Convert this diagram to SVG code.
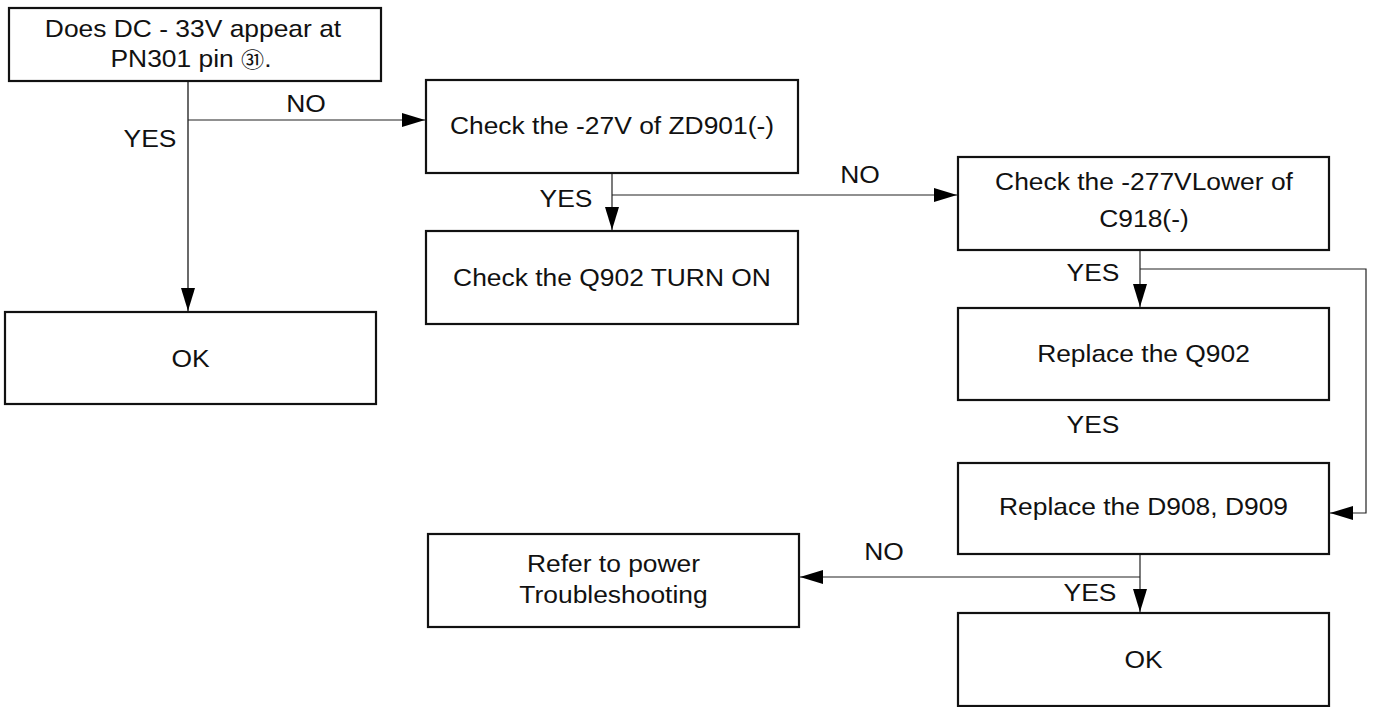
<svg xmlns="http://www.w3.org/2000/svg" width="1375" height="707" viewBox="0 0 1375 707">
<style>
.box{fill:#fff;stroke:#111;stroke-width:2.2}
.t{font-family:"Liberation Sans",Arial,Helvetica,sans-serif;font-size:24px;fill:#111;text-anchor:middle}
.c{fill:none;stroke:#222;stroke-width:1.2}
.c0{fill:none;stroke:#444;stroke-width:1.6}
</style>
<defs>
<marker id="ah" markerUnits="userSpaceOnUse" markerWidth="24" markerHeight="14" refX="23" refY="7" orient="auto">
<path d="M0,0 L23,7 L0,14 z" fill="#000"/>
</marker>
</defs>
<rect width="1375" height="707" fill="#fff"/>
<g id="connectors">
<line class="c0" x1="188" y1="81" x2="188" y2="311" marker-end="url(#ah)"/>
<line class="c" x1="188" y1="120" x2="425" y2="120" marker-end="url(#ah)"/>
<line class="c" x1="612" y1="173" x2="612" y2="230" marker-end="url(#ah)"/>
<line class="c" x1="612" y1="195" x2="957" y2="195" marker-end="url(#ah)"/>
<line class="c" x1="1140" y1="250" x2="1140" y2="307" marker-end="url(#ah)"/>
<polyline class="c" points="1140,269 1366,269 1366,513 1330,513" marker-end="url(#ah)"/>
<line class="c" x1="1140" y1="554" x2="1140" y2="612" marker-end="url(#ah)"/>
<line class="c" x1="1140" y1="577" x2="800" y2="577" marker-end="url(#ah)"/>
<g id="labels">
<text class="t" transform="translate(306,112) scale(1.1,1)">NO</text>
<text class="t" transform="translate(150,147) scale(1.1,1)">YES</text>
<text class="t" transform="translate(566,207) scale(1.1,1)">YES</text>
<text class="t" transform="translate(860,183) scale(1.1,1)">NO</text>
<text class="t" transform="translate(1093,281) scale(1.1,1)">YES</text>
<text class="t" transform="translate(1093,433) scale(1.1,1)">YES</text>
<text class="t" transform="translate(884,560) scale(1.1,1)">NO</text>
<text class="t" transform="translate(1090,601) scale(1.1,1)">YES</text>
</g>
</g>
<g id="n1">
<rect class="box" x="9" y="8" width="372" height="73"/>
<text class="t" transform="translate(193,37) scale(1.1,1)">Does DC - 33V appear at</text>
<text class="t" transform="translate(191,67) scale(1.1,1)">PN301 pin <tspan style="font-family:'Noto Sans CJK JP','DejaVu Sans',sans-serif;font-size:21px">㉛</tspan>.</text>
</g>
<g id="n2">
<rect class="box" x="426" y="80" width="372" height="93"/>
<text class="t" transform="translate(612,134) scale(1.1,1)">Check the -27V of ZD901(-)</text>
</g>
<g id="n3">
<rect class="box" x="426" y="231" width="372" height="93"/>
<text class="t" transform="translate(612,286) scale(1.1,1)">Check the Q902 TURN ON</text>
</g>
<g id="n4">
<rect class="box" x="958" y="157" width="371" height="93"/>
<text class="t" transform="translate(1144,190) scale(1.1,1)">Check the -277VLower of</text>
<text class="t" transform="translate(1144,227) scale(1.1,1)">C918(-)</text>
</g>
<g id="n5">
<rect class="box" x="5" y="312" width="371" height="92"/>
<text class="t" transform="translate(190.5,367) scale(1.1,1)">OK</text>
</g>
<g id="n6">
<rect class="box" x="958" y="308" width="371" height="92"/>
<text class="t" transform="translate(1143.5,362) scale(1.1,1)">Replace the Q902</text>
</g>
<g id="n7">
<rect class="box" x="958" y="463" width="371" height="91"/>
<text class="t" transform="translate(1143.5,515) scale(1.1,1)">Replace the D908, D909</text>
</g>
<g id="n8">
<rect class="box" x="428" y="534" width="371" height="93"/>
<text class="t" transform="translate(613.5,572) scale(1.1,1)">Refer to power</text>
<text class="t" transform="translate(613.5,603) scale(1.1,1)">Troubleshooting</text>
</g>
<g id="n9">
<rect class="box" x="958" y="613" width="371" height="93"/>
<text class="t" transform="translate(1143.5,668) scale(1.1,1)">OK</text>
</g>
</svg>
